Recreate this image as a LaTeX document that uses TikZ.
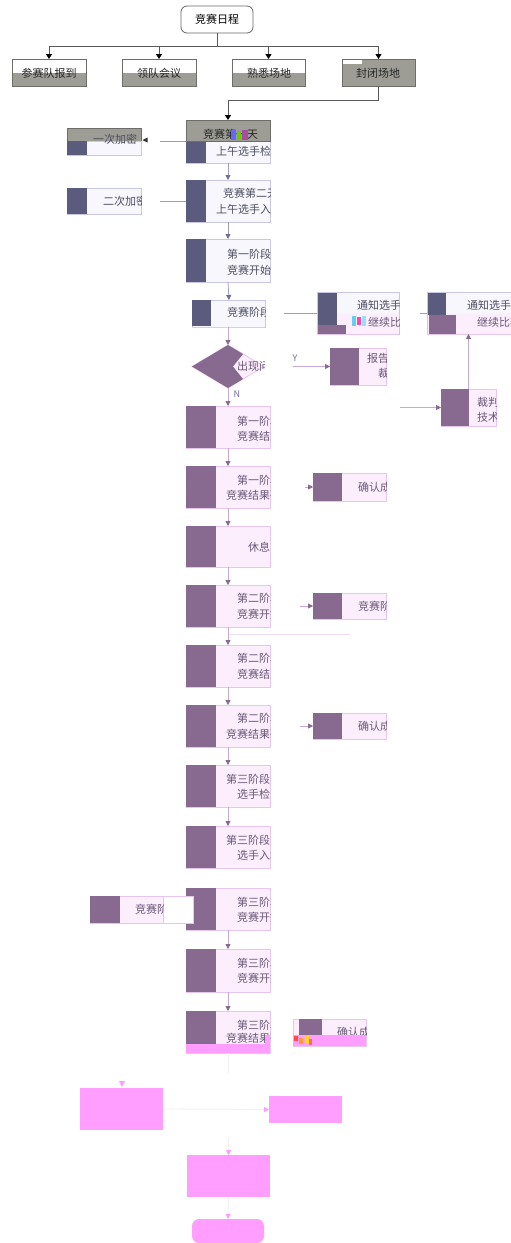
\documentclass[tikz,border=0pt]{standalone}
\usepackage{fontspec}
\setmainfont{Noto Sans CJK SC}
\usetikzlibrary{arrows.meta,shapes.geometric}
\definecolor{slate}{HTML}{5B5B7D}
\definecolor{slatefill}{HTML}{F7F7FD}
\definecolor{slateline}{HTML}{C8C8E6}
\definecolor{slatearrow}{HTML}{9C9CC8}
\definecolor{slatetip}{HTML}{6E6E9A}
\definecolor{plum}{HTML}{886A90}
\definecolor{plumfill}{HTML}{FDEEFD}
\definecolor{plumline}{HTML}{E6C6EE}
\definecolor{plumarrow}{HTML}{C8A8D8}
\definecolor{hdr}{HTML}{9D9D95}
\definecolor{hdrline}{HTML}{6E6E68}
\definecolor{mag}{HTML}{FF9EFF}
\definecolor{stext}{HTML}{4E4E62}
\definecolor{ptext}{HTML}{6A5878}
\definecolor{faint}{HTML}{F2EEF4}
\newcommand\BX[6]{\node[box,minimum width={(#4-#2)*1pt},minimum height={(#5-#3)*1pt},#6] (#1) at ({(#2+#4)/2},{(#3+#5)/2}) {};}
\newcommand\SB[5]{\BX{#1}{#2}{#3}{#4}{#5}{fill=slatefill,draw=slateline}\fill[slate] (#2,#3) rectangle ({#2+20},#5);}
\newcommand\PB[6]{\BX{#1}{#2}{#3}{#4}{#5}{fill=plumfill,draw=plumline}\fill[plum] (#2,#3) rectangle ({#2+#6},#5);}
\newcommand\CT[6]{\begin{scope}\clip (0,0) rectangle (#6,1243);\node[txt,text=#5] (#1) at (#2,{#3+4}) {#4};\end{scope}}
\begin{document}
\begin{tikzpicture}[x=1pt,y=-1pt,line width=0.8pt,
 box/.style={inner sep=0pt,outer sep=0pt},
 txt/.style={inner sep=0pt,outer sep=0pt,font=\fontsize{11}{12}\selectfont,anchor=base west},
 ctxt/.style={inner sep=0pt,outer sep=0pt,font=\fontsize{11}{12}\selectfont,text=black!85},
 topline/.style={draw=black!65},
 toptip/.style={-{Triangle[length=5pt,width=6pt,color=black]}},
 sline/.style={draw=slatearrow},
 stip/.style={-{Triangle[length=5pt,width=5pt,color=slatetip]}},
 pline/.style={draw=plumarrow},
 ptip/.style={-{Triangle[length=5pt,width=5pt,color=plum]}},
 fline/.style={draw=faint},
 mtip/.style={-{Triangle[length=5pt,width=5pt,color=mag]}}]
\useasboundingbox[fill=white] (0,0) rectangle (511,1243);

% ---- top tree
\node[box,draw=black!60,fill=white,rounded corners=6pt,minimum width=72pt,minimum height=27pt,font=\fontsize{11}{12}\selectfont] (root) at (217,19.5) {竞赛日程};
\fill[white] (12,59) rectangle (86,73); \fill[hdr] (12,73) rectangle (86,86);
\BX{t1}{12}{59}{86}{86}{draw=hdrline}
\fill[hdr] (122,73) rectangle (196,86);
\BX{t2}{122}{59}{196}{86}{draw=hdrline}
\fill[hdr] (232,73) rectangle (305,86);
\BX{t3}{232}{59}{305}{86}{draw=hdrline}
\fill[hdr] (342,59) rectangle (415,86); \fill[white] (342,59) rectangle (362,63.5);
\BX{t4}{342}{59}{415}{86}{draw=hdrline}
\node[ctxt] (t1T) at (49,73) {参赛队报到};
\node[ctxt] (t2T) at (159,73) {领队会议};
\node[ctxt] (t3T) at (269,73) {熟悉场地};
\node[ctxt] (t4T) at (378,73) {封闭场地};
\coordinate (j0) at (217,46);
\draw[topline] (root.south) -- (j0);
\draw[topline,toptip] (j0) -| (t1.north);
\draw[topline,toptip] (j0) -| (t2.north);
\draw[topline,toptip] (j0) -| (t3.north);
\draw[topline,toptip] (j0) -| (t4.north);

% ---- day 1
\SB{b1}{186}{141}{270}{163}
\BX{h1}{186}{120}{270}{141}{fill=hdr,draw=hdrline}
\CT{h1T}{203}{134}{竞赛第一天}{black!85}{270}
\fill[blue!60] (231,130) rectangle (236,140);
\fill[green!50!yellow!80!black] (237,131) rectangle (241,140);
\fill[violet!70] (242,130) rectangle (248,140);
\draw[topline,toptip] (t4.south) -- ++(0,14) -| (h1.north);
\CT{b1T}{216}{151}{上午选手检录}{stext}{270}

\BX{h0}{67}{128}{141}{141}{fill=hdr,draw=hdrline}
\SB{k1}{67}{141}{141}{155}
\CT{k1T}{93}{139}{一次加密}{stext}{141}
\coordinate (c1) at (160,141.5);
\draw[sline] (186,141.5) -- (c1);
\fill[black!80] (142.5,140) -- (147.5,137.5) -- (147.5,142.5) -- cycle;

\SB{b2}{186}{180}{270}{222}
\CT{b2T}{223}{193}{竞赛第二天}{stext}{270}
\CT{b2U}{216}{209}{上午选手入场}{stext}{270}
\SB{k2}{67}{188}{141}{214}
\CT{k2T}{103}{201}{二次加密}{stext}{141}
\coordinate (c2) at (160,201);
\draw[sline] (b2.west) -- (c2);

\SB{b3}{186}{239}{270}{282}
\CT{b3T}{227}{254}{第一阶段}{stext}{270}
\CT{b3U}{227}{270}{竞赛开始}{stext}{270}

\BX{b4}{192}{300}{265}{327}{fill=slatefill,draw=slateline}
\fill[slate] (192,300) rectangle (211,326);
\draw[plumline] (192,327) -- (265,327);
\CT{b4T}{227}{312}{竞赛阶段}{stext}{265}

\draw[sline,stip] (b1.south) -- (b2.north);
\draw[sline,stip] (b2.south) -- (b3.north);
\draw[sline,stip] (b3.south) -- ([xshift=0.5pt]b4.north);

% ---- notify boxes
\fill[slatefill] (317,292) rectangle (399,313);
\fill[plumfill] (317,313) rectangle (399,334);
\fill[slate] (317,292) rectangle (337,325);
\fill[plum] (317,325) rectangle (346,334);
\BX{nA}{317}{292}{399}{334}{draw=slateline}
\draw[plumline] (317,334) -- (399,334);
\CT{nAT}{357}{305}{通知选手}{stext}{399}
\CT{nAU}{368}{322}{继续比赛}{ptext}{399}
\fill[cyan!60] (352,316) rectangle (356,326);
\fill[magenta!70] (357,317) rectangle (361,325);
\fill[cyan!40] (362,316) rectangle (366,326);

\fill[slatefill] (427,292) rectangle (520,313);
\fill[plumfill] (427,313) rectangle (520,334);
\fill[slate] (427,292) rectangle (446,315);
\fill[plum] (429,315) rectangle (456,334);
\BX{nB}{427}{292}{520}{334}{draw=slateline}
\draw[plumline] (427,334) -- (520,334);
\CT{nBT}{467}{305}{通知选手}{stext}{511}
\CT{nBU}{477}{322}{继续比赛}{ptext}{511}

\coordinate (c3) at (284,313);
\draw[sline] (c3) -- (nA.west);
\coordinate (c4) at (420,313);
\draw[sline] (c4) -- (nB.west);

% ---- decision
\node[diamond,box,minimum width=72pt,minimum height=43pt,fill=plumfill,draw=plumline] (dia) at (228,366.5) {};
\fill[plum] (192,366.5) -- (228,345) -- (243,354) -- (233,366.5) -- (243,379) -- (228,388) -- cycle;
\CT{diaT}{237}{366}{出现问题}{ptext}{264}
\draw[pline,ptip] (b4.south -| dia.north) -- (dia.north);

\PB{rep}{330}{348}{386}{385}{29}
\CT{repT}{367}{358}{报告}{ptext}{386}
\CT{repU}{378}{373}{裁判}{ptext}{386}
\coordinate (c5) at (293,366.5);
\draw[pline,ptip] (c5) -- (rep.west);
\node[txt,anchor=center,font=\fontsize{9}{10}\selectfont,text=slatetip] (yl) at (295,358) {Y};

\PB{jud}{441}{389}{496}{426}{28}
\CT{judT}{477}{402}{裁判}{ptext}{496}
\CT{judU}{477}{417}{技术}{ptext}{496}
\coordinate (c6) at (400,407.5);
\draw[pline,ptip] (c6) -- (jud.west);
\draw[pline,ptip] (jud.north) -- (jud.north |- nB.south);

% ---- stage 1
\PB{p1}{186}{406}{270}{448}{30}
\CT{p1T}{237}{421}{第一阶段}{ptext}{270}
\CT{p1U}{237}{436}{竞赛结束}{ptext}{270}
\draw[pline,ptip] (dia.south) -- (dia.south |- p1.north);
\node[txt,anchor=center,font=\fontsize{9}{10}\selectfont,text=slatetip] (nl) at (237,394) {N};

\PB{p2}{186}{466}{270}{508}{30}
\CT{p2T}{237}{480}{第一阶段}{ptext}{270}
\CT{p2U}{226}{495}{竞赛结果确认}{ptext}{270}
\PB{r1}{313}{473}{386}{501}{29}
\CT{r1T}{358}{487}{确认成绩}{ptext}{386}
\coordinate (c7) at (305,487);
\draw[pline,ptip] (c7) -- (r1.west);

\PB{p3}{186}{526}{270}{567}{30}
\CT{p3T}{248}{547}{休息}{ptext}{270}

% ---- stage 2
\PB{p4}{186}{585}{270}{627}{30}
\CT{p4T}{237}{598}{第二阶段}{ptext}{270}
\CT{p4U}{237}{614}{竞赛开始}{ptext}{270}
\PB{r2}{313}{593}{386}{619}{29}
\CT{r2T}{358}{606}{竞赛阶段}{ptext}{386}
\coordinate (c8) at (300,606);
\draw[pline,ptip] (c8) -- (r2.west);
\coordinate (c9) at (350,634);
\draw[draw=plumline!60] (228,634) -- (c9);

\PB{p5}{186}{645}{270}{687}{30}
\CT{p5T}{237}{658}{第二阶段}{ptext}{270}
\CT{p5U}{237}{674}{竞赛结束}{ptext}{270}

\PB{p6}{186}{705}{270}{747}{30}
\CT{p6T}{237}{718}{第二阶段}{ptext}{270}
\CT{p6U}{226}{734}{竞赛结果确认}{ptext}{270}
\PB{r3}{313}{713}{386}{739}{29}
\CT{r3T}{358}{726}{确认成绩}{ptext}{386}
\coordinate (c10) at (300,726);
\draw[pline,ptip] (c10) -- (r3.west);

% ---- stage 3
\PB{p7}{186}{765}{270}{807}{30}
\CT{p7T}{226}{779}{第三阶段}{ptext}{270}
\CT{p7U}{237}{794}{选手检录}{ptext}{270}

\PB{p8}{186}{826}{270}{868}{30}
\CT{p8T}{226}{840}{第三阶段}{ptext}{270}
\CT{p8U}{237}{855}{选手入场}{ptext}{270}

\PB{p9}{186}{888}{270}{930}{30}
\CT{p9T}{237}{902}{第三阶段}{ptext}{270}
\CT{p9U}{237}{917}{竞赛开始}{ptext}{270}
\fill[white] (163,896) rectangle (193,923);
\draw[plumline] (163,896) -- (193,896) -- (193,923) -- (163,923);
\PB{l1}{90}{896}{163}{923}{30}
\CT{l1T}{135}{909}{竞赛阶段}{ptext}{163}

\PB{p10}{186}{949}{270}{992}{30}
\CT{p10T}{237}{963}{第三阶段}{ptext}{270}
\CT{p10U}{237}{978}{竞赛开始}{ptext}{270}

\PB{p11}{186}{1011}{270}{1053}{30}
\CT{p11T}{237}{1025}{第三阶段}{ptext}{270}
\CT{p11U}{226}{1038}{竞赛结果确认}{ptext}{270}
\fill[mag] (186,1044) rectangle (270,1053);
\fill[mag] (265,1035) rectangle (270,1044);

\BX{r4}{293}{1019}{366}{1046}{fill=plumfill,draw=plumline}
\fill[plum] (299,1019) rectangle (322,1035);
\CT{r4T}{337}{1032}{确认成绩}{ptext}{366}
\fill[mag] (293,1035) rectangle (366,1046);
\fill[red!70] (294,1036) rectangle (298,1041);
\fill[orange!80] (299,1038) rectangle (303,1044);
\fill[yellow!80!orange] (305,1036) rectangle (309,1043);
\fill[red!60] (309,1039) rectangle (312,1045);

\foreach \a/\b in {p1/p2,p2/p3,p3/p4,p4/p5,p5/p6,p6/p7,p7/p8,p9/p10,p10/p11}
  \draw[pline,ptip] (\a.south) -- (\b.north);

% ---- bottom magenta
\coordinate (c11) at (228,1073);
\draw[fline] (p11.south) -- (c11);
\BX{m1}{80}{1088}{163}{1130}{fill=mag}
\fill[mag] (119,1081) -- (125,1081) -- (122,1087) -- cycle;
\BX{m2}{269}{1096}{342}{1123}{fill=mag}
\draw[fline,mtip] (m1.east) -- (m2.west);
\BX{m3}{187}{1155}{270}{1197}{fill=mag}
\coordinate (c12) at (228.5,1138);
\draw[fline,mtip] (c12) -- (m3.north);
\node[box,fill=mag,rounded corners=7pt,minimum width=72pt,minimum height=24pt] (m4) at (228,1231) {};
\draw[fline,mtip] (m3.south) -- (m4.north);
\end{tikzpicture}
\end{document}
